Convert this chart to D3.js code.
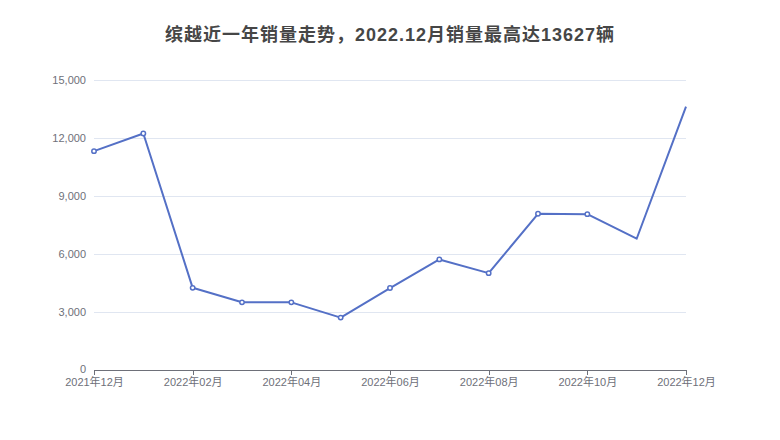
<!DOCTYPE html>
<html><head><meta charset="utf-8">
<script src="https://cdn.jsdelivr.net/npm/d3@7"></script>
<style>body{margin:0;background:#fff}svg{display:block}</style>
</head><body><div id="chart"></div>
<script>
const titleText = "缤越近一年销量走势，2022.12月销量最高达13627辆";
const months = ["2021年12月","2022年01月","2022年02月","2022年03月","2022年04月","2022年05月","2022年06月","2022年07月","2022年08月","2022年09月","2022年10月","2022年11月","2022年12月"];
const sales = [11320, 12230, 4250, 3500, 3500, 2710, 4240, 5720, 5010, 8080, 8060, 6790, 13627];
const yTicks = [0, 3000, 6000, 9000, 12000, 15000];
const showSymbol = [true,true,true,true,true,true,true,true,true,true,true,false,false];

const W = 780, H = 440;
const m = {left: 94, right: 94, top: 80, bottom: 70};
const svg = d3.select("#chart").append("svg").attr("width", W).attr("height", H);
const titleFont = "'Liberation Sans','Noto Sans CJK SC',sans-serif";
const axisFont = "'Liberation Sans','Noto Sans CJK SC',sans-serif";

const x = d3.scalePoint().domain(months).range([m.left, W - m.right]);
const y = d3.scaleLinear().domain([0, 15000]).range([H - m.bottom, m.top]);

svg.append("text").attr("x", W/2).attr("y", 41).attr("text-anchor","middle")
  .attr("font-family", titleFont).attr("font-weight","bold").attr("font-size",18)
  .attr("letter-spacing", 1)
  .attr("fill","#464646").text(titleText);

// grid
svg.append("g").selectAll("line").data(yTicks.filter(d=>d>0)).join("line")
  .attr("x1", m.left).attr("x2", W - m.right)
  .attr("y1", d=>y(d)).attr("y2", d=>y(d))
  .attr("stroke","#E0E6F1").attr("stroke-width",1).attr("shape-rendering","crispEdges");

// y axis labels
const yAxis = d3.axisLeft(y).tickValues(yTicks).tickSize(0).tickPadding(8).tickFormat(d3.format(","));
const gy = svg.append("g").attr("transform",`translate(${m.left},0)`).call(yAxis);
gy.select(".domain").remove();
gy.selectAll("text").attr("fill","#6E7079").attr("font-size",11).attr("font-family",axisFont)
  .attr("dy", d => d === 0 ? "0.2em" : "0.32em");

// x axis
const xLabels = months.filter((d,i)=>i%2===0);
const xAxis = d3.axisBottom(x).tickValues(xLabels).tickSizeInner(5).tickSizeOuter(0).tickPadding(3);
const gx = svg.append("g").attr("transform",`translate(0,${H - m.bottom})`).call(xAxis);
gx.select(".domain").attr("stroke","#6E7079").attr("shape-rendering","crispEdges");
gx.selectAll(".tick line").attr("stroke","#6E7079").attr("shape-rendering","crispEdges");
gx.selectAll("text").attr("fill","#6E7079").attr("font-size",11).attr("font-family",axisFont);

// line
const line = d3.line().x((d,i)=>x(months[i])).y(d=>y(d));
svg.append("path").datum(sales).attr("d", line).attr("fill","none")
  .attr("stroke","#5470C6").attr("stroke-width",2).attr("stroke-linejoin","round");

svg.append("g").selectAll("circle").data(sales.map((v,i)=>({v,i})).filter(d=>showSymbol[d.i])).join("circle")
  .attr("cx", d=>x(months[d.i])).attr("cy", d=>y(d.v)).attr("r", 2.2)
  .attr("fill","#fff").attr("stroke","#5470C6").attr("stroke-width",1.5);
</script></body></html>
